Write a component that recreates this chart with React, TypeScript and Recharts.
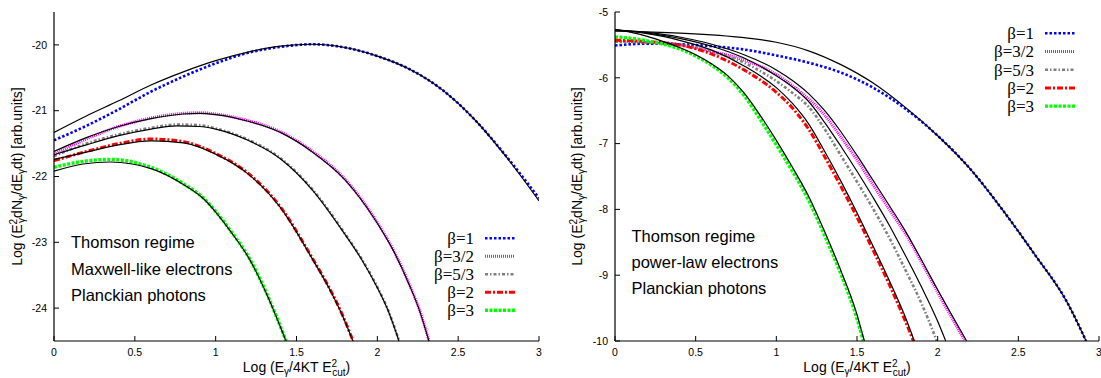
import React from 'react';
import { LineChart, Line, XAxis, YAxis, Legend } from 'recharts';

type P = [number, number];

// ---------- axes ----------
const X_TICKS = [0, 0.5, 1, 1.5, 2, 2.5, 3];
const LEFT_Y_TICKS = [-24, -23, -22, -21, -20];
const RIGHT_Y_TICKS = [-10, -9, -8, -7, -6, -5];
const LEFT_Y_DOMAIN: [number, number] = [-24.5, -19.5];
const RIGHT_Y_DOMAIN: [number, number] = [-10, -5];

const SERIES_NAMES = ['β=1', 'β=3/2', 'β=5/3', 'β=2', 'β=3'];
const LEFT_NOTES = ['Thomson regime', 'Maxwell-like electrons', 'Planckian photons'];
const RIGHT_NOTES = ['Thomson regime', 'power-law electrons', 'Planckian photons'];

// ---------- left panel (Maxwell-like electrons) : numerical ----------
const L_B1: P[] = [[0, -21.45], [0.2, -21.23], [0.4, -20.98], [0.6, -20.71], [0.8, -20.48], [1.0, -20.28], [1.2, -20.12], [1.4, -20.03], [1.6, -19.99], [1.8, -20.04], [2.0, -20.17], [2.2, -20.37], [2.4, -20.68], [2.6, -21.13], [2.8, -21.7], [3.0, -22.33]];
const L_B32: P[] = [[0, -21.66], [0.2, -21.43], [0.4, -21.24], [0.6, -21.11], [0.8, -21.04], [0.9, -21.03], [1.0, -21.05], [1.2, -21.15], [1.4, -21.32], [1.6, -21.62], [1.8, -22.04], [2.0, -22.7], [2.1, -23.12], [2.2, -23.65], [2.26, -24.02], [2.32, -24.5]];
const L_B53: P[] = [[0, -21.69], [0.2, -21.5], [0.4, -21.36], [0.6, -21.26], [0.76, -21.21], [0.9, -21.22], [1.0, -21.27], [1.2, -21.44], [1.4, -21.72], [1.6, -22.2], [1.8, -22.87], [1.9, -23.24], [2.0, -23.68], [2.06, -23.99], [2.135, -24.5]];
const L_B2: P[] = [[0, -21.76], [0.2, -21.62], [0.4, -21.5], [0.6, -21.43], [0.8, -21.47], [1.0, -21.65], [1.2, -21.95], [1.4, -22.46], [1.6, -23.25], [1.7, -23.68], [1.78, -24.08], [1.85, -24.5]];
const L_B3: P[] = [[0, -21.86], [0.18, -21.77], [0.35, -21.74], [0.6, -21.86], [0.8, -22.11], [0.93, -22.34], [1.0, -22.53], [1.1, -22.85], [1.21, -23.25], [1.316, -23.78], [1.436, -24.5]];

// ---------- left panel : analytic (black) ----------
const L_B1_FIT: P[] = [[0, -21.33], [0.2, -21.08], [0.4, -20.85], [0.6, -20.61], [0.8, -20.41], [1.0, -20.24], [1.2, -20.11], [1.4, -20.02], [1.6, -19.99], [1.8, -20.04], [2.0, -20.17], [2.2, -20.37], [2.4, -20.68], [2.6, -21.13], [2.8, -21.71], [3.0, -22.37]];
const L_B32_FIT: P[] = [[0, -21.62], [0.2, -21.41], [0.4, -21.24], [0.6, -21.12], [0.8, -21.05], [0.9, -21.04], [1.0, -21.06], [1.2, -21.16], [1.4, -21.33], [1.6, -21.63], [1.8, -22.05], [2.0, -22.71], [2.1, -23.13], [2.2, -23.66], [2.26, -24.03], [2.319, -24.5]];
const L_B53_FIT: P[] = [[0, -21.67], [0.2, -21.52], [0.4, -21.38], [0.6, -21.28], [0.76, -21.23], [0.9, -21.24], [1.0, -21.28], [1.2, -21.45], [1.4, -21.73], [1.6, -22.21], [1.8, -22.88], [1.9, -23.25], [2.0, -23.69], [2.06, -24.0], [2.134, -24.5]];
const L_B2_FIT: P[] = [[0, -21.74], [0.2, -21.63], [0.4, -21.52], [0.6, -21.46], [0.8, -21.49], [1.0, -21.66], [1.2, -21.96], [1.4, -22.47], [1.6, -23.26], [1.7, -23.69], [1.78, -24.09], [1.849, -24.5]];
const L_B3_FIT: P[] = [[0, -21.92], [0.18, -21.81], [0.35, -21.78], [0.6, -21.88], [0.8, -22.12], [0.93, -22.35], [1.0, -22.54], [1.1, -22.86], [1.21, -23.26], [1.316, -23.79], [1.435, -24.5]];

// ---------- right panel (power-law electrons) : numerical ----------
const R_B1: P[] = [[0, -5.51], [0.2, -5.48], [0.4, -5.49], [0.6, -5.52], [0.8, -5.57], [1.0, -5.66], [1.2, -5.77], [1.4, -5.92], [1.6, -6.15], [1.8, -6.47], [2.0, -6.88], [2.2, -7.38], [2.4, -8.0], [2.6, -8.68], [2.8, -9.4], [2.92, -10]];
const R_B32: P[] = [[0, -5.44], [0.2, -5.46], [0.4, -5.5], [0.6, -5.6], [0.8, -5.73], [1.0, -5.95], [1.1, -6.12], [1.2, -6.32], [1.3, -6.57], [1.4, -6.9], [1.5, -7.25], [1.6, -7.63], [1.7, -8.0], [1.8, -8.37], [1.9, -8.8], [2.0, -9.26], [2.1, -9.7], [2.17, -10]];
const R_B53: P[] = [[0, -5.45], [0.2, -5.46], [0.4, -5.5], [0.6, -5.6], [0.8, -5.77], [1.0, -6.05], [1.1, -6.23], [1.2, -6.44], [1.3, -6.78], [1.4, -7.18], [1.5, -7.58], [1.6, -7.99], [1.7, -8.43], [1.8, -8.92], [1.9, -9.43], [1.995, -10]];
const R_B2: P[] = [[0, -5.43], [0.2, -5.45], [0.4, -5.5], [0.6, -5.64], [0.8, -5.88], [1.0, -6.22], [1.1, -6.46], [1.2, -6.78], [1.3, -7.2], [1.4, -7.65], [1.5, -8.12], [1.6, -8.62], [1.7, -9.14], [1.8, -9.7], [1.85, -10]];
const R_B3: P[] = [[0, -5.38], [0.1, -5.4], [0.2, -5.44], [0.3, -5.49], [0.4, -5.56], [0.5, -5.67], [0.6, -5.81], [0.7, -6.0], [0.8, -6.27], [0.9, -6.63], [1.0, -7.02], [1.1, -7.42], [1.2, -7.86], [1.3, -8.4], [1.4, -8.98], [1.5, -9.66], [1.54, -10]];

// ---------- right panel : analytic (black) ----------
const R_B1_FIT: P[] = [[0, -5.29], [0.4, -5.32], [0.8, -5.39], [1.0, -5.46], [1.2, -5.59], [1.4, -5.8], [1.6, -6.08], [1.8, -6.45], [2.0, -6.88], [2.2, -7.38], [2.4, -8.0], [2.6, -8.68], [2.8, -9.4], [2.92, -10]];
const R_B32_FIT: P[] = [[0, -5.27], [0.2, -5.31], [0.4, -5.38], [0.6, -5.49], [0.8, -5.65], [1.0, -5.88], [1.1, -6.04], [1.2, -6.24], [1.3, -6.5], [1.4, -6.82], [1.5, -7.18], [1.6, -7.56], [1.7, -7.94], [1.8, -8.33], [1.9, -8.77], [2.0, -9.22], [2.1, -9.66], [2.18, -10]];
const R_B53_FIT: P[] = [[0, -5.27], [0.2, -5.32], [0.4, -5.4], [0.6, -5.52], [0.8, -5.7], [1.0, -5.97], [1.1, -6.14], [1.2, -6.36], [1.3, -6.68], [1.4, -7.04], [1.5, -7.42], [1.6, -7.82], [1.7, -8.24], [1.8, -8.7], [1.9, -9.18], [2.0, -9.7], [2.05, -10]];
const R_B2_FIT: P[] = [[0, -5.27], [0.2, -5.33], [0.4, -5.43], [0.6, -5.58], [0.8, -5.82], [1.0, -6.15], [1.1, -6.39], [1.2, -6.7], [1.3, -7.12], [1.4, -7.57], [1.5, -8.05], [1.6, -8.56], [1.7, -9.08], [1.8, -9.64], [1.855, -10]];
const R_B3_FIT: P[] = [[0, -5.27], [0.1, -5.31], [0.2, -5.37], [0.3, -5.45], [0.4, -5.54], [0.5, -5.65], [0.6, -5.79], [0.7, -5.97], [0.8, -6.23], [0.9, -6.57], [1.0, -6.95], [1.1, -7.36], [1.2, -7.8], [1.3, -8.34], [1.4, -8.93], [1.5, -9.6], [1.545, -10]];

// ---------- styles ----------
const STYLES = [
  { color: '#0000ff', dash: '2.5 2', width: 2.6 },
  { color: '#ff00ff', dash: '1 1', width: 3 },
  { color: '#808080', dash: '3 2 1.5 2', width: 2.6 },
  { color: '#ff0000', dash: '6 2 2 2', width: 3 },
  { color: '#00ff00', dash: '3 1.5', width: 3.4 },
];

const SANS = "'Liberation Sans', Arial, Helvetica, sans-serif";
const SERIF = "'Liberation Serif', 'Times New Roman', serif";

const rows = (pts: P[]) => pts.map(([x, y]) => ({ x, y }));

const yTitle = (x: number) => (props: any) => {
  const vb = props.viewBox || { y: 12, height: 329 };
  const cy = vb.y + vb.height / 2;
  return (
    <text x={x} y={cy} transform={`rotate(-90, ${x}, ${cy})`} textAnchor="middle" fontFamily={SANS} fontSize={14} fill="#000">
      <tspan>Log (E</tspan>
      <tspan fontSize={10} dy={-5}>2</tspan>
      <tspan fontSize={10} dx={-4} dy={8}>γ</tspan>
      <tspan dy={-3}>dN</tspan>
      <tspan fontSize={10} dy={3}>γ</tspan>
      <tspan dy={-3}>/dE</tspan>
      <tspan fontSize={10} dy={3}>γ</tspan>
      <tspan dy={-3}>dt) [arb.units]</tspan>
    </text>
  );
};

const xTitle = (props: any) => {
  const vb = props.viewBox || { x: 54, y: 341, width: 485 };
  const cx = vb.x + vb.width / 2;
  const y = vb.y + 31;
  return (
    <text x={cx} y={y} textAnchor="middle" fontFamily={SANS} fontSize={14} fill="#000">
      <tspan>Log (E</tspan>
      <tspan fontSize={10} dy={3}>γ</tspan>
      <tspan dy={-3}>/4KT E</tspan>
      <tspan fontSize={10} dy={-5}>2</tspan>
      <tspan fontSize={10} dx={-5} dy={9}>cut</tspan>
      <tspan dy={-4}>)</tspan>
    </text>
  );
};

const legendContent = (rowStep: number) => () => (
  <svg width={130} height={100} style={{ display: 'block' }}>
    {SERIES_NAMES.map((name, i) => {
      const s = STYLES[i];
      const y = 13.3 + i * rowStep;
      return (
        <g key={name}>
          <text x={74} y={y + 5.8} textAnchor="end" fontFamily={SERIF} fontSize={17} fill="#000">{name}</text>
          <line x1={85} x2={115} y1={y} y2={y} stroke={s.color} strokeWidth={s.width} strokeDasharray={s.dash} />
        </g>
      );
    })}
  </svg>
);

type PanelProps = {
  width: number;
  margin: { top: number; right: number; bottom: number; left: number };
  yDomain: [number, number];
  yTicks: number[];
  num: P[][];
  fit: P[][];
  yTitleX: number;
  legendLeft: number;
  legendTop: number;
  legendStep: number;
};

function Panel(p: PanelProps) {
  const tickStyle = { fontSize: 10.5, fill: '#000', fontFamily: SANS };
  const axisLine = { stroke: '#000', strokeWidth: 1.2 };
  const tickLine = { stroke: '#000', strokeWidth: 1 };
  return (
    <LineChart width={p.width} height={378} margin={p.margin}>
      <XAxis type="number" dataKey="x" domain={[0, 3]} ticks={X_TICKS} allowDataOverflow
        height={30} tickSize={-5} tickMargin={13} tick={tickStyle} axisLine={axisLine} tickLine={tickLine}
        interval={0} label={xTitle} />
      <XAxis xAxisId="top" orientation="top" type="number" dataKey="x" domain={[0, 3]} ticks={X_TICKS} allowDataOverflow
        height={0} tickSize={-5} tick={false} axisLine={axisLine} tickLine={tickLine} interval={0} />
      <YAxis type="number" domain={p.yDomain} ticks={p.yTicks} allowDataOverflow width={40}
        tickSize={-5} tickMargin={12} tick={tickStyle} axisLine={axisLine} tickLine={tickLine}
        interval={0} label={yTitle(p.yTitleX)} />
      <YAxis yAxisId="right" orientation="right" type="number" domain={p.yDomain} ticks={p.yTicks} allowDataOverflow width={0}
        tickSize={-5} tick={false} axisLine={axisLine} tickLine={tickLine} interval={0} />
      {p.num.map((pts, i) => (
        <Line key={'n' + i} data={rows(pts)} dataKey="y" name={SERIES_NAMES[i]} type="monotone"
          stroke={STYLES[i].color} strokeWidth={STYLES[i].width} strokeDasharray={STYLES[i].dash}
          dot={false} activeDot={false} isAnimationActive={false} />
      ))}
      {p.fit.map((pts, i) => (
        <Line key={'f' + i} data={rows(pts)} dataKey="y" name={'fit ' + SERIES_NAMES[i]} type="monotone"
          stroke="#000" strokeWidth={1.2} dot={false} activeDot={false} legendType="none" isAnimationActive={false} />
      ))}
      <Legend layout="horizontal" align="center" verticalAlign="middle" content={legendContent(p.legendStep)}
        wrapperStyle={{ position: 'absolute', left: p.legendLeft, top: p.legendTop, width: 130, height: 100 }} />
    </LineChart>
  );
}

export default function App() {
  return (
    <div style={{ position: 'absolute', left: 0, top: 0, width: 1101, height: 378, background: '#fff', overflow: 'hidden' }}>
      <div style={{ position: 'absolute', left: 0, top: 0 }}>
        <Panel width={550} margin={{ top: 12, right: 11, bottom: 7, left: 14 }}
          yDomain={LEFT_Y_DOMAIN} yTicks={LEFT_Y_TICKS}
          num={[L_B1, L_B32, L_B53, L_B2, L_B3]} fit={[L_B1_FIT, L_B32_FIT, L_B53_FIT, L_B2_FIT, L_B3_FIT]}
          yTitleX={22} legendLeft={400} legendTop={225} legendStep={18} />
      </div>
      <div style={{ position: 'absolute', left: 550, top: 0 }}>
        <Panel width={551} margin={{ top: 12, right: 2, bottom: 7, left: 25 }}
          yDomain={RIGHT_Y_DOMAIN} yTicks={RIGHT_Y_TICKS}
          num={[R_B1, R_B32, R_B53, R_B2, R_B3]} fit={[R_B1_FIT, R_B32_FIT, R_B53_FIT, R_B2_FIT, R_B3_FIT]}
          yTitleX={32} legendLeft={410} legendTop={20} legendStep={18.2} />
      </div>
      <svg width={1101} height={378} style={{ position: 'absolute', left: 0, top: 0, pointerEvents: 'none' }}>
        {LEFT_NOTES.map((t, i) => (
          <text key={'l' + i} x={71} y={248.3 + i * 26.5} fontFamily={SANS} fontSize={16.5} fill="#000">{t}</text>
        ))}
        {RIGHT_NOTES.map((t, i) => (
          <text key={'r' + i} x={631.5} y={241.7 + i * 26.3} fontFamily={SANS} fontSize={16.5} fill="#000">{t}</text>
        ))}
      </svg>
    </div>
  );
}
